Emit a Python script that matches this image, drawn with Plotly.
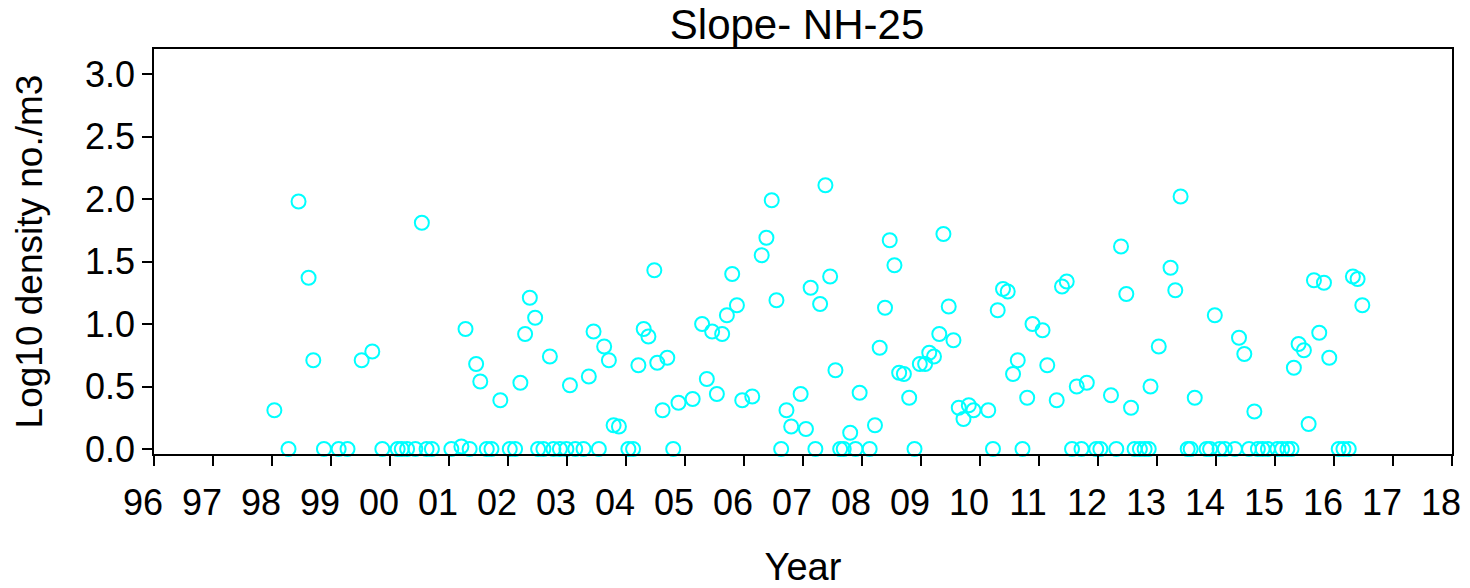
import plotly.graph_objects as go

years = [
    1998.04, 1998.28, 1998.45, 1998.62, 1998.70, 1998.88, 1999.13, 1999.28, 1999.52, 1999.70,
    1999.87, 2000.13, 2000.20, 2000.29, 2000.43, 2000.54, 2000.62, 2000.71, 2001.04, 2001.21,
    2001.28, 2001.35, 2001.46, 2001.53, 2001.64, 2001.72, 2001.87, 2002.03, 2002.12, 2002.21,
    2002.29, 2002.37, 2002.46, 2002.51, 2002.60, 2002.71, 2002.77, 2002.88, 2002.99, 2003.05,
    2003.14, 2003.28, 2003.37, 2003.45, 2003.54, 2003.63, 2003.71, 2003.79, 2003.88, 2004.04,
    2004.12, 2004.21, 2004.30, 2004.38, 2004.48, 2004.53, 2004.62, 2004.70, 2004.80, 2004.89,
    2005.13, 2005.29, 2005.37, 2005.46, 2005.54, 2005.63, 2005.71, 2005.80, 2005.88, 2005.97,
    2006.14, 2006.30, 2006.38, 2006.47, 2006.55, 2006.63, 2006.72, 2006.80, 2006.96, 2007.05,
    2007.13, 2007.21, 2007.29, 2007.38, 2007.46, 2007.55, 2007.63, 2007.69, 2007.80, 2007.89,
    2007.96, 2008.13, 2008.22, 2008.30, 2008.39, 2008.47, 2008.55, 2008.63, 2008.71, 2008.80,
    2008.89, 2008.98, 2009.07, 2009.14, 2009.22, 2009.31, 2009.38, 2009.47, 2009.55, 2009.64,
    2009.72, 2009.81, 2009.89, 2010.14, 2010.22, 2010.30, 2010.39, 2010.47, 2010.56, 2010.64,
    2010.72, 2010.80, 2010.89, 2011.06, 2011.14, 2011.30, 2011.39, 2011.47, 2011.56, 2011.64,
    2011.72, 2011.81, 2011.97, 2012.04, 2012.22, 2012.31, 2012.39, 2012.48, 2012.56, 2012.62,
    2012.71, 2012.79, 2012.86, 2012.89, 2013.03, 2013.23, 2013.31, 2013.40, 2013.52, 2013.57,
    2013.64, 2013.84, 2013.90, 2013.98, 2014.06, 2014.15, 2014.32, 2014.39, 2014.48, 2014.56,
    2014.65, 2014.71, 2014.79, 2014.88, 2015.04, 2015.12, 2015.21, 2015.28, 2015.32, 2015.40,
    2015.49, 2015.57, 2015.66, 2015.75, 2015.83, 2015.92, 2016.08, 2016.16, 2016.25, 2016.32,
    2016.40, 2016.48,
]

log_density = [
    0.31, 0.00, 1.98, 1.37, 0.71, 0.00, 0.00, 0.00, 0.71, 0.78,
    0.00, 0.00, 0.00, 0.00, 0.00, 1.81, 0.00, 0.00, 0.00, 0.02,
    0.96, 0.00, 0.68, 0.54, 0.00, 0.00, 0.39, 0.00, 0.00, 0.53,
    0.92, 1.21, 1.05, 0.00, 0.00, 0.74, 0.00, 0.00, 0.00, 0.51,
    0.00, 0.00, 0.58, 0.94, 0.00, 0.82, 0.71, 0.19, 0.18, 0.00,
    0.00, 0.67, 0.96, 0.90, 1.43, 0.69, 0.31, 0.73, 0.00, 0.37,
    0.40, 1.00, 0.56, 0.94, 0.44, 0.92, 1.07, 1.40, 1.15, 0.39,
    0.42, 1.55, 1.69, 1.99, 1.19, 0.00, 0.31, 0.18, 0.44, 0.16,
    1.29, 0.00, 1.16, 2.11, 1.38, 0.63, 0.00, 0.00, 0.13, 0.00,
    0.45, 0.00, 0.19, 0.81, 1.13, 1.67, 1.47, 0.61, 0.60, 0.41,
    0.00, 0.68, 0.68, 0.77, 0.74, 0.92, 1.72, 1.14, 0.87, 0.33,
    0.24, 0.35, 0.31, 0.31, 0.00, 1.11, 1.28, 1.26, 0.60, 0.71,
    0.00, 0.41, 1.00, 0.95, 0.67, 0.39, 1.30, 1.34, 0.00, 0.50,
    0.00, 0.53, 0.00, 0.00, 0.43, 0.00, 1.62, 1.24, 0.33, 0.00,
    0.00, 0.00, 0.00, 0.50, 0.82, 1.45, 1.27, 2.02, 0.00, 0.00,
    0.41, 0.00, 0.00, 1.07, 0.00, 0.00, 0.00, 0.89, 0.76, 0.00,
    0.30, 0.00, 0.00, 0.00, 0.00, 0.00, 0.00, 0.00, 0.65, 0.84,
    0.79, 0.20, 1.35, 0.93, 1.33, 0.73, 0.00, 0.00, 0.00, 1.38,
    1.36, 1.15,
]

x_tick_vals = list(range(1996, 2019))
x_tick_text = ["96", "97", "98", "99", "00", "01", "02", "03", "04", "05", "06",
               "07", "08", "09", "10", "11", "12", "13", "14", "15", "16", "17", "18"]
y_tick_vals = [0.0, 0.5, 1.0, 1.5, 2.0, 2.5, 3.0]
y_tick_text = ["0.0", "0.5", "1.0", "1.5", "2.0", "2.5", "3.0"]

FONT = "Liberation Sans, Arial, sans-serif"

fig = go.Figure()
fig.add_trace(go.Scatter(
    x=years, y=log_density, mode="markers",
    marker=dict(symbol="circle-open", size=14, color="#00FFFF",
                line=dict(width=2, color="#00FFFF")),
    showlegend=False, cliponaxis=False,
))

fig.update_layout(
    width=1470, height=588,
    margin=dict(l=154, r=18, t=49, b=134),
    paper_bgcolor="white", plot_bgcolor="white",
    font=dict(family=FONT, size=36, color="black"),
    title=dict(text="Slope- NH-25", x=0.4954, xref="paper", xanchor="center",
               y=0.958, yref="container", yanchor="middle",
               font=dict(family=FONT, size=42, color="black")),
)
fig.update_xaxes(
    range=[1996, 2018], tickmode="array", tickvals=x_tick_vals, ticktext=x_tick_text,
    showgrid=False, zeroline=False, showline=True, linecolor="black", linewidth=1.5,
    mirror=True, ticks="outside", ticklen=10, tickwidth=1.5, tickcolor="black",
    ticklabelstandoff=6, ticklabelshift=-11, ticklabeloverflow="allow", automargin=False,
    tickfont=dict(family=FONT, size=36, color="black"),
    title=dict(text="Year", standoff=37, font=dict(family=FONT, size=38, color="black")),
)
fig.update_yaxes(
    range=[-0.04, 3.2], tickmode="array", tickvals=y_tick_vals, ticktext=y_tick_text,
    showgrid=False, zeroline=False, showline=True, linecolor="black", linewidth=1.5,
    mirror=True, ticks="outside", ticklen=10, tickwidth=1.5, tickcolor="black",
    automargin=False,
    tickfont=dict(family=FONT, size=36, color="black"),
    title=dict(text="Log10 density no./m3", standoff=31,
               font=dict(family=FONT, size=37, color="black")),
)

fig.write_html("out.html")
